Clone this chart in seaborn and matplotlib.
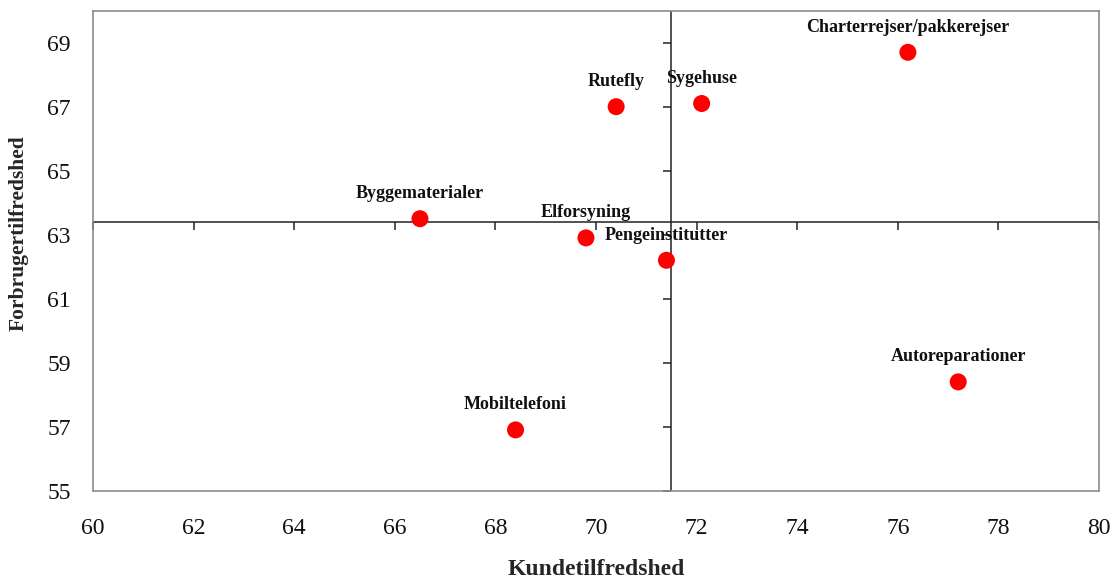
import matplotlib
matplotlib.use("Agg")
import matplotlib.pyplot as plt
import matplotlib.markers as mmarkers
import seaborn as sns
import pandas as pd

# Satisfaction scores per industry
brancher = ["Charterrejser/pakkerejser", "Sygehuse", "Rutefly", "Byggematerialer",
            "Elforsyning", "Pengeinstitutter", "Mobiltelefoni", "Autoreparationer"]
kundetilfredshed = [76.2, 72.1, 70.4, 66.5, 69.8, 71.4, 68.4, 77.2]
forbrugertilfredshed = [68.7, 67.1, 67.0, 63.5, 62.9, 62.2, 56.9, 58.4]

# Quadrant centre lines
midt_x = 71.5
midt_y = 63.4

x_ticks = [60, 62, 64, 66, 68, 70, 72, 74, 76, 78, 80]
y_ticks = [55, 57, 59, 61, 63, 65, 67, 69]

df = pd.DataFrame({"branche": brancher, "kunde": kundetilfredshed,
                   "forbruger": forbrugertilfredshed})

sns.set_theme(style="white")
plt.rcParams["font.family"] = ["Liberation Serif", "DejaVu Serif"]

fig = plt.figure(figsize=(11.15, 5.82), dpi=100)
ax = fig.add_axes([0.0834, 0.1569, 0.9023, 0.8247])

sns.scatterplot(data=df, x="kunde", y="forbruger", ax=ax, color="#ff0000",
                s=150, edgecolor="none", marker="o", zorder=5)

# Crossing axes with their own tick marks
line_col = "#222222"
ax.axhline(midt_y, color=line_col, lw=1.1, zorder=2)
ax.axvline(midt_x, color=line_col, lw=1.1, zorder=2)
ax.plot(x_ticks, [midt_y] * len(x_ticks), linestyle="none",
        marker=mmarkers.TICKDOWN, markersize=6, markeredgewidth=1.1,
        color=line_col, clip_on=False, zorder=2)
ax.plot([midt_x] * len(y_ticks), y_ticks, linestyle="none",
        marker=mmarkers.TICKLEFT, markersize=6, markeredgewidth=1.1,
        color=line_col, clip_on=False, zorder=2)

for navn, xv, yv in zip(brancher, kundetilfredshed, forbrugertilfredshed):
    ax.annotate(navn, (xv, yv), xytext=(0, 18), textcoords="offset points",
                ha="center", va="center", fontsize=13, fontweight="bold",
                color="#111111", zorder=6)

ax.set_xlim(60, 80)
ax.set_ylim(55, 70)
ax.set_xticks(x_ticks)
ax.set_yticks(y_ticks)
ax.tick_params(axis="both", length=0, labelsize=17, colors="#111111")
ax.tick_params(axis="x", pad=20)
ax.tick_params(axis="y", pad=16)

for sp in ax.spines.values():
    sp.set_color("#8c8c8c")
    sp.set_linewidth(1.2)

ax.set_xlabel("Kundetilfredshed", fontsize=17, fontweight="bold", labelpad=14)
ax.set_ylabel("Forbrugertilfredshed", fontsize=15.5, fontweight="bold")
ax.yaxis.set_label_coords(-0.064, 0.537)

fig.savefig("out.png", dpi=100, facecolor="white")
